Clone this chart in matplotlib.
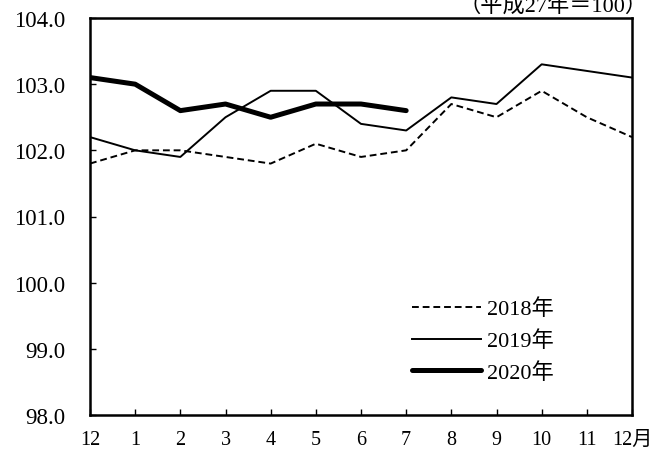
import numpy as np
import matplotlib.pyplot as plt

plt.rcParams['font.family'] = ['Liberation Serif', 'Noto Sans CJK JP']

# 月ごとの指数（平成27年＝100）
months = ['12', '1', '2', '3', '4', '5', '6', '7', '8', '9', '10', '11', '12月']
y2018 = [101.8, 102.0, 102.0, 101.9, 101.8, 102.1, 101.9, 102.0, 102.7, 102.5, 102.9, 102.5, 102.2]
y2019 = [102.2, 102.0, 101.9, 102.5, 102.9, 102.9, 102.4, 102.3, 102.8, 102.7, 103.3, 103.2, 103.1]
y2020 = [103.1, 103.0, 102.6, 102.7, 102.5, 102.7, 102.7, 102.6]

x = np.arange(len(months))

fig = plt.figure(figsize=(6.52, 4.52), dpi=100)
ax = fig.add_axes([90 / 652, 1 - 416 / 452, 542 / 652, 397 / 452])

ax.plot(x, y2018, color='black', lw=1.4, ls=(0, (3.5, 2)), label='2018年')
ax.plot(x, y2019, color='black', lw=1.4, label='2019年')
ax.plot(x[:len(y2020)], y2020, color='black', lw=3.6, solid_capstyle='round', label='2020年')

ax.set_xlim(0, len(months) - 1)
ax.set_ylim(98, 104)
ax.set_xticks(x)
ax.set_xticklabels(months, fontsize=14.5)
ax.set_yticks(np.arange(98, 104.1, 1))
ax.set_yticklabels([f'{v:.1f}' for v in np.arange(98, 104.1, 1)], fontsize=16.5)
ax.tick_params(axis='x', direction='in', length=4, width=1, pad=11)
ax.tick_params(axis='y', direction='in', length=4, width=1, pad=18)
for s in ax.spines.values():
    s.set_linewidth(1.8)

ax.legend(loc='lower left', bbox_to_anchor=(0.595, 0.08), frameon=False,
          fontsize=16, handlelength=3.1, handletextpad=0.27, labelspacing=0.5,
          borderaxespad=0, borderpad=0)

fig.text(0.993, 0.986, '（平成27年＝100）', ha='right', va='center', fontsize=16)

fig.savefig('out.png', dpi=100)
